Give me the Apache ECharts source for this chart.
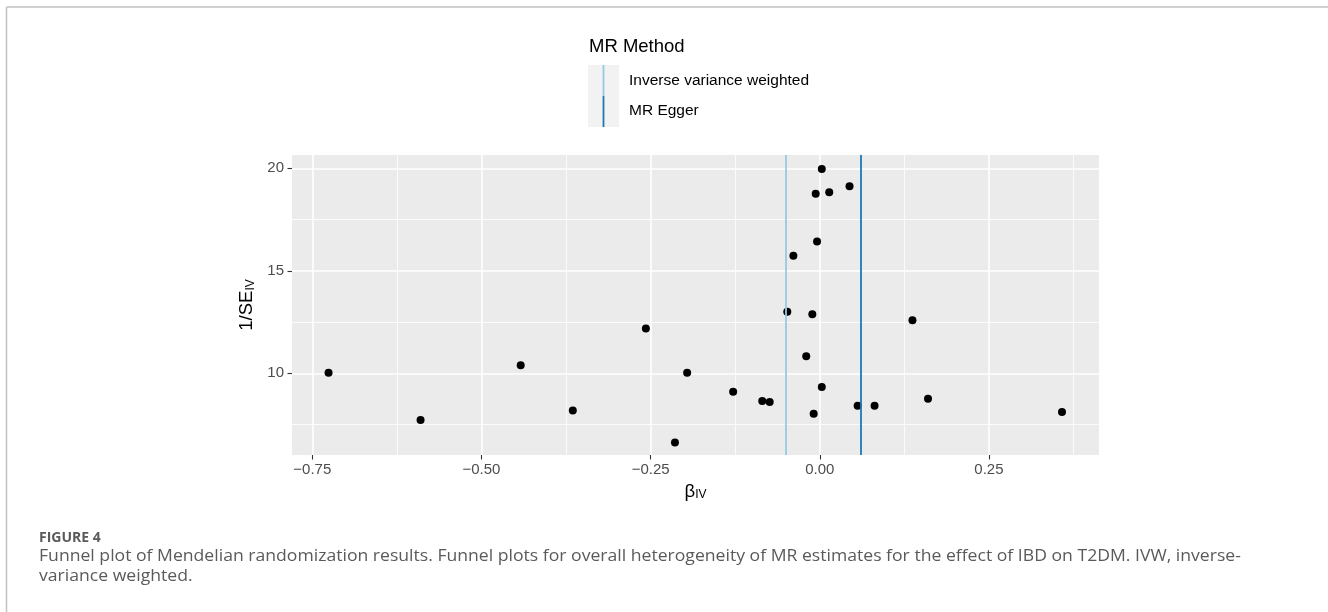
<!DOCTYPE html>
<html>
<head>
<meta charset="utf-8">
<script src="https://cdn.jsdelivr.net/npm/echarts@6/dist/echarts.min.js"></script>
<style>
  html, body { margin: 0; padding: 0; background: #ffffff; }
  #chart { width: 1328px; height: 612px; }
</style>
</head>
<body>
<div id="chart"></div>
<script>
// Wald ratio estimate (beta_IV) and precision (1/SE_IV) for each instrument
const betaIV = [
  -0.726, -0.590, -0.442, -0.365, -0.257, -0.214,
  0.003, 0.044, -0.006, 0.014, -0.004, -0.039,
  -0.048, -0.011, 0.137, -0.020, -0.196, 0.003,
  -0.128, -0.085, -0.074, -0.009, 0.056, 0.081,
  0.160, 0.358
];
const precisionIV = [
  10.03, 7.72, 10.39, 8.18, 12.18, 6.63,
  19.97, 19.12, 18.76, 18.83, 16.43, 15.73,
  13.00, 12.88, 12.59, 10.83, 10.03, 9.33,
  9.10, 8.65, 8.60, 8.03, 8.42, 8.42,
  8.76, 8.11
];

// Pooled MR estimates drawn as vertical lines
const methodNames = ['Inverse variance weighted', 'MR Egger'];
const methodEstimates = [-0.0527, 0.063];
const methodColors = ['#94cbe4', '#1f78b4'];

// Axis ranges, ticks and labels
const xRange = [-0.780, 0.4127];
const yRange = [6.015, 20.65];
const xTicks = [-0.75, -0.5, -0.25, 0, 0.25];
const xTickLabels = ['\u22120.75', '\u22120.50', '\u22120.25', '0.00', '0.25'];
const xMinorTicks = [-0.625, -0.375, -0.125, 0.125, 0.375];
const yTicks = [10, 15, 20];
const yTickLabels = ['10', '15', '20'];
const yMinorTicks = [7.5, 12.5, 17.5];

const legendTitle = 'MR Method';
const figureLabel = 'FIGURE 4';
const captionLines = [
  'Funnel plot of Mendelian randomization results. Funnel plots for overall heterogeneity of MR estimates for the effect of IBD on T2DM. IVW, inverse-',
  'variance weighted.'
];

const PLOT_FONT = '"Liberation Sans", Arial, sans-serif';
const CAPTION_FONT = '"Open Sans", "Noto Sans", sans-serif';
const CAPTION_STRETCH = 1.1;

const points = betaIV.map((b, i) => [b, precisionIV[i]]);

const chart = echarts.init(document.getElementById('chart'), null, { renderer: 'canvas' });

const hiddenAxisParts = {
  axisLine: { show: false, onZero: false },
  axisLabel: { show: false }
};

const option = {
  animation: false,
  backgroundColor: '#ffffff',
  grid: {
    left: 292, right: 229, top: 155, bottom: 157,
    show: true, backgroundColor: '#ebebeb', borderWidth: 0
  },
  xAxis: [
    {
      type: 'value', min: xRange[0], max: xRange[1], position: 'bottom',
      axisLine: { show: false, onZero: false },
      axisTick: { show: true, customValues: xTicks, length: 4.5, lineStyle: { color: '#333333', width: 1.1 } },
      axisLabel: {
        customValues: xTicks,
        formatter: v => xTickLabels[xTicks.indexOf(v)],
        color: '#4d4d4d', fontSize: 15, fontFamily: PLOT_FONT, margin: 7
      },
      splitLine: { show: true, lineStyle: { color: '#ffffff', width: 1.6 } },
      name: '{b|\u03b2}{s|IV}',
      nameLocation: 'middle',
      nameGap: 24,
      nameTextStyle: {
        color: '#000000', fontFamily: PLOT_FONT,
        rich: {
          b: { fontSize: 18.5, fontFamily: PLOT_FONT, color: '#000', verticalAlign: 'bottom', lineHeight: 22 },
          s: { fontSize: 12, fontFamily: PLOT_FONT, color: '#000', verticalAlign: 'bottom', lineHeight: 14 }
        }
      }
    },
    Object.assign({
      type: 'value', min: xRange[0], max: xRange[1], position: 'bottom',
      axisTick: { show: false, customValues: xMinorTicks },
      splitLine: { show: true, lineStyle: { color: '#ffffff', width: 0.8 } }
    }, hiddenAxisParts)
  ],
  yAxis: [
    {
      type: 'value', min: yRange[0], max: yRange[1], position: 'left',
      axisLine: { show: false, onZero: false },
      axisTick: { show: true, customValues: yTicks, length: 4.5, lineStyle: { color: '#333333', width: 1.1 } },
      axisLabel: {
        customValues: yTicks,
        formatter: v => yTickLabels[yTicks.indexOf(v)],
        color: '#4d4d4d', fontSize: 15, fontFamily: PLOT_FONT, margin: 8
      },
      splitLine: { show: true, lineStyle: { color: '#ffffff', width: 1.6 } },
      name: '{n|1/SE}{s|IV}',
      nameLocation: 'middle',
      nameRotate: 90,
      nameGap: 35,
      nameTextStyle: {
        color: '#000000', fontFamily: PLOT_FONT,
        rich: {
          n: { fontSize: 18.5, fontFamily: PLOT_FONT, color: '#000', verticalAlign: 'bottom', lineHeight: 22 },
          s: { fontSize: 12, fontFamily: PLOT_FONT, color: '#000', verticalAlign: 'bottom', lineHeight: 14 }
        }
      }
    },
    Object.assign({
      type: 'value', min: yRange[0], max: yRange[1], position: 'left',
      axisTick: { show: false, customValues: yMinorTicks },
      splitLine: { show: true, lineStyle: { color: '#ffffff', width: 0.8 } }
    }, hiddenAxisParts)
  ],
  series: [
    {
      type: 'scatter',
      xAxisIndex: 0, yAxisIndex: 0,
      data: points,
      symbol: 'circle',
      symbolSize: 8,
      itemStyle: { color: '#000000', opacity: 1 },
      silent: true,
      z: 3,
      markLine: {
        silent: true,
        symbol: 'none',
        label: { show: false },
        z: 4,
        data: methodEstimates.map((est, i) => ({
          xAxis: est,
          lineStyle: { color: methodColors[i], width: 1.8, type: 'solid' }
        }))
      }
    }
  ],
  graphic: [
    // page frame
    { type: 'line', shape: { x1: 6.5, y1: 7, x2: 1328, y2: 7 }, style: { stroke: '#c2c2c2', lineWidth: 1.5 } },
    { type: 'line', shape: { x1: 6.5, y1: 7, x2: 6.5, y2: 612 }, style: { stroke: '#c2c2c2', lineWidth: 1.5 } },
    // legend
    { type: 'text', x: 589, y: 47, style: { text: legendTitle, font: '18.5px ' + PLOT_FONT, fill: '#000', verticalAlign: 'middle' } },
    { type: 'rect', shape: { x: 588, y: 65, width: 31, height: 62 }, style: { fill: '#f2f2f2' } },
    { type: 'line', shape: { x1: 603.5, y1: 65, x2: 603.5, y2: 96 }, style: { stroke: methodColors[0], lineWidth: 1.8 } },
    { type: 'line', shape: { x1: 603.5, y1: 96, x2: 603.5, y2: 127 }, style: { stroke: methodColors[1], lineWidth: 1.8 } },
    { type: 'text', x: 629, y: 81, style: { text: methodNames[0], font: '15.5px ' + PLOT_FONT, fill: '#000', verticalAlign: 'middle' } },
    { type: 'text', x: 629, y: 111, style: { text: methodNames[1], font: '15.5px ' + PLOT_FONT, fill: '#000', verticalAlign: 'middle' } },
    // caption
    { type: 'text', x: 39, y: 538, style: { text: figureLabel, font: 'bold 14px ' + CAPTION_FONT, fill: '#5a5a5a', verticalAlign: 'middle' } },
    { type: 'text', x: 39, y: 556, scaleX: CAPTION_STRETCH, style: { text: captionLines[0], font: '16px ' + CAPTION_FONT, fill: '#5a5a5a', verticalAlign: 'middle' } },
    { type: 'text', x: 39, y: 576, scaleX: CAPTION_STRETCH, style: { text: captionLines[1], font: '16px ' + CAPTION_FONT, fill: '#5a5a5a', verticalAlign: 'middle' } }
  ]
};

chart.setOption(option);
</script>
</body>
</html>
